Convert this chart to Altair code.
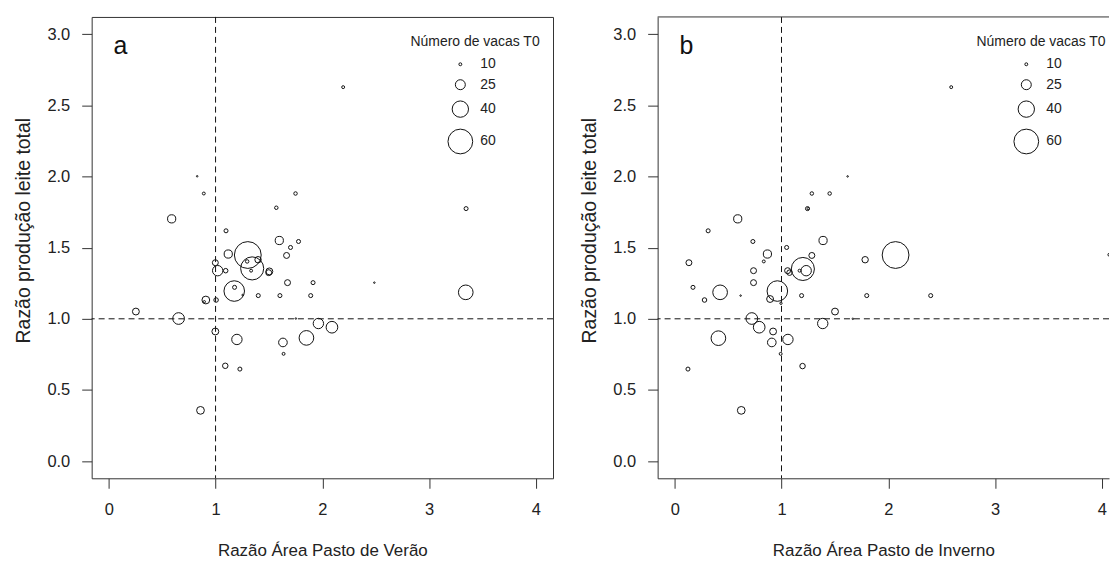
import altair as alt
import pandas as pd

# ---------------- data ----------------
# Panel a: Razão Área Pasto de Verão vs Razão produção leite total
a_x = [0.828, 0.890, 2.195, 0.589, 1.569, 1.749, 3.346, 1.098, 1.597, 1.777,
       1.702, 1.119, 1.302, 1.665, 1.296, 1.398, 1.343, 1.333, 0.998, 1.020,
       1.095, 1.504, 1.498, 1.674, 1.913, 2.487, 1.175, 1.178, 1.253, 3.343,
       1.400, 1.603, 1.891, 0.909, 0.895, 1.005, 0.254, 0.654, 1.752, 1.963,
       2.090, 0.998, 1.200, 1.851, 1.631, 1.637, 1.091, 1.228, 0.859]
a_y = [2.001, 1.880, 2.627, 1.702, 1.780, 1.880, 1.774, 1.618, 1.550, 1.543,
       1.501, 1.455, 1.448, 1.445, 1.403, 1.415, 1.354, 1.338, 1.394, 1.338,
       1.338, 1.333, 1.324, 1.254, 1.254, 1.254, 1.195, 1.221, 1.167, 1.186,
       1.163, 1.163, 1.163, 1.132, 1.120, 1.132, 1.051, 1.002, 1.002, 0.967,
       0.941, 0.911, 0.855, 0.866, 0.834, 0.754, 0.670, 0.647, 0.357]
a_n = [8, 10, 10, 21, 11, 11, 12, 12, 21, 12,
       12, 21, 65, 16, 11, 17, 56, 10, 16, 26,
       13, 18, 16, 16, 12, 8, 50, 12, 8, 36,
       12, 12, 12, 20, 9, 13, 18, 29, 8, 26,
       29, 18, 26, 36, 22, 10, 15, 12, 20]

# Panel b: Razão Área Pasto de Inverno vs Razão produção leite total
b_x = [2.589, 1.619, 1.284, 1.451, 1.243, 1.250, 0.590, 0.313, 1.389, 0.732,
       1.048, 0.868, 1.284, 2.068, 1.783, 0.133, 0.834, 1.200, 1.231, 1.169,
       1.057, 1.075, 0.738, 0.738, 0.171, 0.425, 0.961, 0.617, 1.188, 1.798,
       2.397, 0.279, 0.893, 0.995, 1.501, 0.722, 1.668, 1.386, 0.791, 0.921,
       1.060, 0.409, 0.909, 0.992, 1.197, 0.124, 0.623, 4.070]
b_y = [2.627, 2.000, 1.880, 1.880, 1.774, 1.774, 1.702, 1.618, 1.550, 1.543,
       1.501, 1.455, 1.445, 1.448, 1.415, 1.394, 1.403, 1.350, 1.338, 1.338,
       1.338, 1.324, 1.338, 1.254, 1.221, 1.186, 1.195, 1.163, 1.163, 1.163,
       1.163, 1.132, 1.139, 1.109, 1.051, 1.002, 1.000, 0.967, 0.941, 0.911,
       0.855, 0.864, 0.834, 0.754, 0.668, 0.647, 0.357, 1.450]
b_n = [10, 8, 11, 11, 12, 9, 21, 12, 21, 12,
       12, 21, 16, 65, 17, 16, 10, 56, 26, 10,
       16, 15, 16, 16, 12, 36, 50, 8, 12, 12,
       12, 13, 18, 9, 18, 29, 8, 26, 29, 18,
       26, 36, 22, 10, 15, 12, 20, 10]

legend_values = [10, 25, 40, 60]
x_ticks = [0, 1, 2, 3, 4]
y_ticks = [0.0, 0.5, 1.0, 1.5, 2.0, 2.5, 3.0]
ref_value = 1

y_title = "Razão produção leite total"
legend_title = "Número de vacas T0"

FONT = "Liberation Sans"
TXT = "#222222"
FRAME = "#333333"
PLOT_H = 463


def panel(xs, ys, ns, label, xtitle, width, xdomain, open_right):
    df = pd.DataFrame({"x": xs, "y": ys, "n": ns})
    xscale = alt.Scale(domain=xdomain, nice=False, zero=False)
    yscale = alt.Scale(domain=[-0.12, 3.12], nice=False, zero=False)
    xaxis = alt.Axis(values=x_ticks, format="d", title=xtitle, grid=False,
                     domain=open_right, domainColor=FRAME, domainWidth=1,
                     tickSize=10, tickColor=FRAME, labelPadding=13,
                     labelFontSize=16.5, labelColor=TXT, labelFont=FONT,
                     titleFontSize=17, titleColor=TXT, titleFont=FONT,
                     titleFontWeight="normal", titlePadding=25)
    yaxis = alt.Axis(values=y_ticks, format=".1f", title=y_title, grid=False,
                     domain=open_right, domainColor=FRAME, domainWidth=1,
                     tickSize=10, tickColor=FRAME, labelPadding=12,
                     labelFontSize=16.5, labelColor=TXT, labelFont=FONT,
                     titleFontSize=19.5, titleColor=TXT, titleFont=FONT,
                     titleFontWeight="normal", titlePadding=13, titleY=214)
    size_scale = alt.Scale(type="pow", exponent=2, domain=[10, 60],
                           range=[8.6, 616], zero=False)
    legend = alt.Legend(values=legend_values, title=legend_title,
                        orient="none", legendX=320, legendY=18.5,
                        titleFontSize=14, titleFontWeight="normal",
                        titleFont=FONT, titleColor=TXT, titlePadding=8,
                        labelFontSize=14, labelFont=FONT, labelColor=TXT,
                        symbolType="circle", symbolStrokeColor="#111111",
                        symbolFillColor="transparent", symbolStrokeWidth=1,
                        symbolOffset=37, labelOffset=7, rowPadding=6.5,
                        padding=0)

    points = alt.Chart(df).mark_point(
        shape="circle", filled=False, color="#111111", strokeWidth=1,
        opacity=1, clip=True
    ).encode(
        x=alt.X("x:Q", scale=xscale, axis=xaxis),
        y=alt.Y("y:Q", scale=yscale, axis=yaxis),
        size=alt.Size("n:Q", scale=size_scale, legend=legend),
    )
    vline = alt.Chart(pd.DataFrame({"v": [ref_value]})).mark_rule(
        strokeDash=[6, 4], color="#111111", strokeWidth=1
    ).encode(x=alt.X("v:Q", scale=xscale, axis=xaxis))
    hline = alt.Chart(pd.DataFrame({"v": [ref_value]})).mark_rule(
        strokeDash=[6, 4], color="#111111", strokeWidth=1
    ).encode(y=alt.Y("v:Q", scale=yscale, axis=yaxis))
    tag = alt.Chart(pd.DataFrame({"t": [label]})).mark_text(
        align="left", baseline="alphabetic", fontSize=25, font=FONT,
        color="#111111"
    ).encode(text="t:N", x=alt.value(22), y=alt.value(37))

    layers = [vline, hline, points, tag]
    if open_right:
        top = alt.Chart(pd.DataFrame({"t": [0]})).mark_rule(
            color=FRAME, strokeWidth=1
        ).encode(y=alt.value(0))
        layers.append(top)
    ch = alt.layer(*layers).properties(width=width, height=PLOT_H)
    if open_right:
        ch = ch.properties(view=alt.ViewBackground(stroke="transparent"))
    else:
        ch = ch.properties(view=alt.ViewBackground(stroke=FRAME,
                                                   strokeWidth=1))
    return ch


pa = panel(a_x, a_y, a_n, "a", "Razão Área Pasto de Verão", 463,
           [-0.16, 4.16], False)
pb = panel(b_x, b_y, b_n, "b", "Razão Área Pasto de Inverno", 453,
           [-0.16, -0.16 + 453 / 107.18], True)

chart = alt.hconcat(pa, pb, spacing=25).resolve_scale(
    size="independent"
).properties(
    padding={"left": 13, "top": 15, "right": 0, "bottom": 0}
).configure(
    font=FONT, background="white"
)

chart.save("out.html", embed_options={"renderer": "svg", "actions": False})
